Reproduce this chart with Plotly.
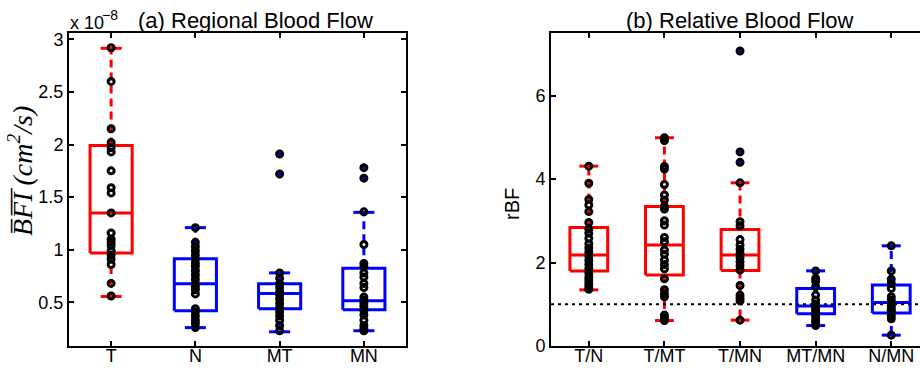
import plotly.graph_objects as go

# ---------------- data ----------------
left_cats = ["T", "N", "MT", "MN"]
left_colors = ["red", "blue", "blue", "blue"]
left_q1 = [0.968, 0.42, 0.44, 0.43]
left_med = [1.35, 0.676, 0.585, 0.515]
left_q3 = [1.99, 0.914, 0.676, 0.823]
left_lo = [0.555, 0.26, 0.22, 0.23]
left_hi = [2.915, 1.21, 0.78, 1.355]
left_pts = [
    [2.92, 2.60, 2.15, 2.02, 1.97, 1.93, 1.75, 1.59, 1.54, 1.35, 1.16, 1.10, 1.07, 1.04, 0.99, 0.95, 0.91, 0.86, 0.68, 0.56],
    [1.21, 1.07, 1.03, 0.99, 0.95, 0.91, 0.87, 0.84, 0.80, 0.76, 0.72, 0.68, 0.65, 0.62, 0.58, 0.44, 0.41, 0.37, 0.33, 0.30, 0.26],
    [1.91, 1.72, 0.78, 0.73, 0.68, 0.64, 0.60, 0.57, 0.53, 0.49, 0.45, 0.41, 0.37, 0.33, 0.28, 0.23],
    [1.78, 1.68, 1.36, 1.05, 0.87, 0.84, 0.78, 0.74, 0.68, 0.64, 0.55, 0.52, 0.49, 0.46, 0.42, 0.38, 0.33, 0.28, 0.25, 0.23],
]

right_cats = ["T/N", "T/MT", "T/MN", "MT/MN", "N/MN"]
right_colors = ["red", "red", "red", "blue", "blue"]
right_q1 = [1.80, 1.70, 1.81, 0.77, 0.79]
right_med = [2.18, 2.42, 2.18, 0.96, 1.04]
right_q3 = [2.84, 3.34, 2.79, 1.38, 1.46]
right_lo = [1.345, 0.61, 0.62, 0.49, 0.26]
right_hi = [4.31, 4.99, 3.91, 1.80, 2.40]
right_pts = [
    [4.31, 3.90, 3.51, 3.38, 3.22, 2.96, 2.80, 2.70, 2.58, 2.45, 2.35, 2.25, 2.15, 2.05, 1.95, 1.85, 1.75, 1.65, 1.58, 1.50, 1.42, 1.36],
    [4.99, 4.92, 4.30, 4.24, 3.87, 3.62, 3.50, 3.35, 3.28, 3.00, 2.90, 2.60, 2.50, 2.30, 2.20, 2.06, 1.95, 1.85, 1.61, 1.35, 1.25, 1.18, 0.74, 0.67, 0.61],
    [7.07, 4.65, 4.40, 3.91, 2.98, 2.88, 2.55, 2.42, 2.32, 2.22, 2.12, 2.02, 1.92, 1.82, 1.45, 1.22, 1.15, 1.08, 0.62],
    [1.80, 1.62, 1.55, 1.42, 1.22, 1.10, 1.00, 0.95, 0.90, 0.85, 0.80, 0.75, 0.70, 0.62, 0.55, 0.49],
    [2.40, 1.80, 1.60, 1.50, 1.38, 1.18, 1.10, 1.02, 0.95, 0.90, 0.85, 0.80, 0.72, 0.65, 0.26],
]
reference_level = 1.0

left_yticks = [0.5, 1, 1.5, 2, 2.5, 3]
left_yticklabels = ["0.5", "1", "1.5", "2", "2.5", "3"]
right_yticks = [0, 2, 4, 6]

# ---------------- style ----------------
COL = {"red": "rgb(255,0,0)", "blue": "rgb(0,0,255)"}
BOX_HALF = 0.25
CAP_HALF = 0.125
LW = 3
FONT = "Liberation Sans, Arial, Helvetica, sans-serif"

fig = go.Figure()


def add_panel(cats, colors, q1, med, q3, lo, hi, pts, xa, ya):
    for i in range(len(cats)):
        x = i + 1
        c = COL[colors[i]]
        # whiskers (dashed)
        fig.add_trace(go.Scatter(
            x=[x, x, None, x, x], y=[q3[i], hi[i], None, q1[i], lo[i]],
            mode="lines", line=dict(color=c, width=LW, dash="8px,5px"),
            xaxis=xa, yaxis=ya, hoverinfo="skip", showlegend=False))
        # caps, box, median (solid)
        bx = [x - CAP_HALF, x + CAP_HALF, None, x - CAP_HALF, x + CAP_HALF, None,
              x - BOX_HALF, x + BOX_HALF, x + BOX_HALF, x - BOX_HALF, x - BOX_HALF, None,
              x - BOX_HALF, x + BOX_HALF]
        by = [hi[i], hi[i], None, lo[i], lo[i], None,
              q1[i], q1[i], q3[i], q3[i], q1[i], None,
              med[i], med[i]]
        fig.add_trace(go.Scatter(
            x=bx, y=by, mode="lines", line=dict(color=c, width=LW),
            xaxis=xa, yaxis=ya, hoverinfo="skip", showlegend=False))
        # outliers (blue dots beneath rings)
        out = [v for v in pts[i] if v > hi[i] + 0.02 or v < lo[i] - 0.02]
        if out:
            fig.add_trace(go.Scatter(
                x=[x] * len(out), y=out, mode="markers",
                marker=dict(color=COL["blue"], size=4),
                xaxis=xa, yaxis=ya, hoverinfo="skip", showlegend=False))
    for i in range(len(cats)):
        fig.add_trace(go.Scatter(
            x=[i + 1] * len(pts[i]), y=pts[i], mode="markers",
            marker=dict(symbol="circle-open", color="black", size=6,
                        line=dict(width=3, color="black")),
            xaxis=xa, yaxis=ya, hoverinfo="skip", showlegend=False))


add_panel(left_cats, left_colors, left_q1, left_med, left_q3, left_lo, left_hi, left_pts, "x", "y")
add_panel(right_cats, right_colors, right_q1, right_med, right_q3, right_lo, right_hi, right_pts, "x2", "y2")

fig.add_shape(type="line", xref="x2 domain", yref="y2", x0=0, x1=1,
              y0=reference_level, y1=reference_level,
              line=dict(color="black", width=2, dash="3px,4px"))

L, T, W, H = 69, 33, 920, 373
PW, PH = 920 - L, 346 - T


def px(x):
    return (x - L) / PW


def py(y):
    return (346 - y) / PH


axis_common = dict(showline=True, linecolor="black", linewidth=2, ticks="inside",
                   ticklen=5, tickwidth=1.5, tickcolor="black", showgrid=False,
                   zeroline=False, tickfont=dict(family=FONT, size=18, color="black"))

fig.update_layout(
    width=W, height=H,
    margin=dict(l=L, r=0, t=T, b=373 - 346, pad=0),
    plot_bgcolor="white", paper_bgcolor="white",
    xaxis=dict(domain=[0, px(406)], range=[0.5, 4.5], tickvals=list(range(1, 5)),
               ticktext=left_cats, mirror="ticks", anchor="y", ticklabelstandoff=-8,
               **axis_common),
    yaxis=dict(domain=[0, 1], range=[0.085, 3.06], tickvals=left_yticks,
               ticktext=left_yticklabels, mirror="ticks", anchor="x", **axis_common),
    xaxis2=dict(domain=[px(551), 1], range=[0.5, 5.38], tickvals=list(range(1, 6)),
                ticktext=right_cats, mirror="ticks", anchor="y2", ticklabelstandoff=-8,
                **axis_common),
    yaxis2=dict(domain=[0, 1], range=[0, 7.5], tickvals=right_yticks,
                mirror=False, anchor="x2", **axis_common),
)

ann = [
    dict(text="(a) Regional Blood Flow", x=px(255), y=py(21), font=dict(size=22)),
    dict(text="(b) Relative Blood Flow", x=px(740), y=py(21), font=dict(size=22)),
    dict(text="x 10", x=px(68), y=py(23), xanchor="left", font=dict(size=18)),
    dict(text="\u22128", x=px(100), y=py(15), xanchor="left", font=dict(size=14)),
    dict(text="rBF", x=px(512), y=py(204), textangle=-90, font=dict(size=20)),
    dict(text="<i>B\u0305F\u0305I\u0305 (cm<sup>2</sup>/s)</i>", x=px(21), y=py(171), textangle=-90,
         font=dict(size=28, family="Liberation Serif, DejaVu Serif, serif")),
]
for a in ann:
    f = dict(family=FONT, color="black")
    f.update(a.pop("font"))
    a.setdefault("xanchor", "center")
    fig.add_annotation(xref="paper", yref="paper", showarrow=False, yanchor="middle",
                       font=f, **a)

fig.write_html("out.html", config={"displayModeBar": False},
               post_script="document.body.style.margin='0';document.body.style.overflow='hidden';")
